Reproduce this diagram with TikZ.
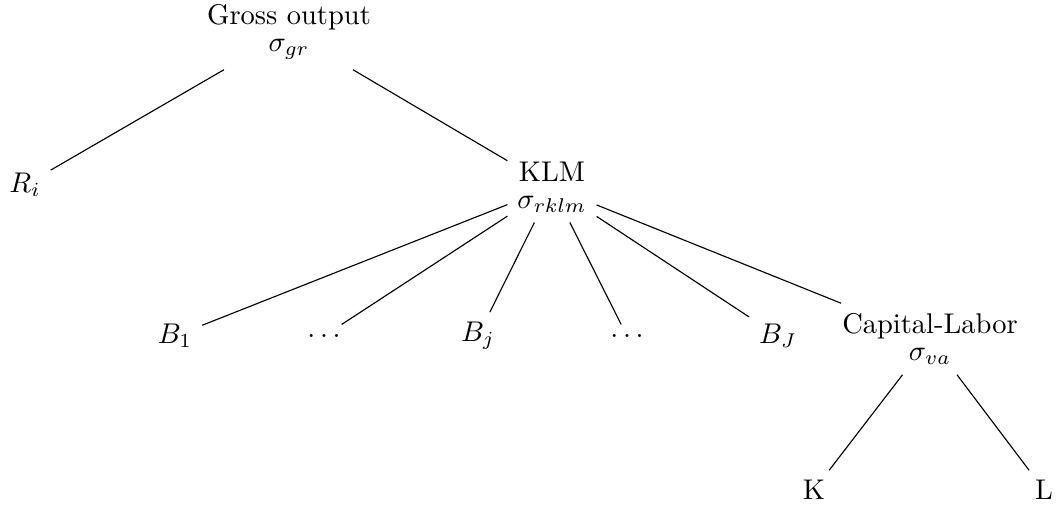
\documentclass[tikz,border=0pt]{standalone}
\begin{document}
\begin{tikzpicture}[x=0.35088pt,y=-0.35088pt,
  tn/.style={align=center,inner sep=3.33pt},
  edge/.style={draw,line width=0.4pt}]
\useasboundingbox (0,0) rectangle (1061,508);
\node[tn] (g) at (289,32) {Gross output\\[-2.5pt]$\sigma_{gr}$};
\node[tn] (r) at (25,185) {$R_i$};
\node[tn] (klm) at (552,187) {KLM\\[-2.5pt]$\sigma_{rklm}$};
\node[tn] (b1) at (175,336) {$B_1$};
\node[tn] (d1) at (324,336) {$\ldots$};
\node[tn] (bj) at (478,336) {$B_j$};
\node[tn] (d2) at (627,336) {$\ldots$};
\node[tn] (bJ) at (778,336) {$B_J$};
\node[tn] (cl) at (930,339) {Capital-Labor\\[-2.5pt]$\sigma_{va}$};
\node[tn] (k) at (814,490) {K};
\node[tn] (l) at (1044,490) {L};
\draw[edge] (g) -- (r);
\draw[edge] (g) -- (klm);
\draw[edge] (klm) -- (b1);
\draw[edge] (klm) -- (d1);
\draw[edge] (klm) -- (bj);
\draw[edge] (klm) -- (d2);
\draw[edge] (klm) -- (bJ);
\draw[edge] (klm) -- (cl);
\draw[edge] (cl) -- (k);
\draw[edge] (cl) -- (l);
\end{tikzpicture}
\end{document}
